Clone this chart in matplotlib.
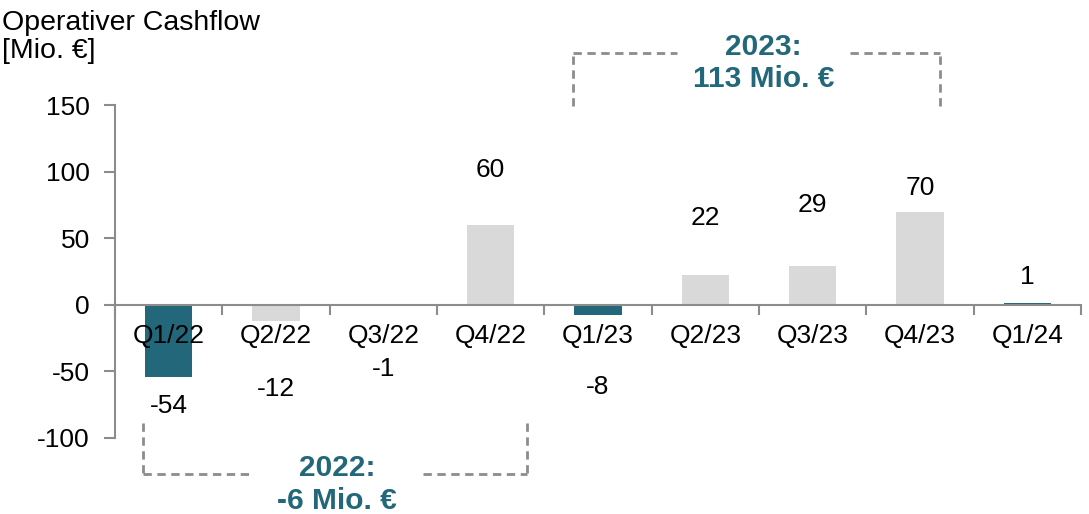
import numpy as np
import matplotlib.pyplot as plt
from matplotlib.lines import Line2D

plt.rcParams['font.family'] = ['Liberation Sans', 'DejaVu Sans']

# data
quarters = ['Q1/22', 'Q2/22', 'Q3/22', 'Q4/22', 'Q1/23', 'Q2/23', 'Q3/23', 'Q4/23', 'Q1/24']
cashflow = [-54, -12, -1, 60, -8, 22, 29, 70, 1]
highlight = [True, False, False, False, True, False, False, False, True]
yticks = [-100, -50, 0, 50, 100, 150]
sum_2022 = '2022:\n-6 Mio. €'
sum_2023 = '2023:\n113 Mio. €'

# where the value labels sit (data units), as in the source slide
label_y = [-76, -63, -48, 101, -62, 65, 75, 88, 21]

teal = '#22687A'
grey = '#D9D9D9'
axis_grey = '#8C8C8C'
fs = 19

fig = plt.figure(figsize=(10.89, 5.14), dpi=100)
ax = fig.add_axes([0.1056, 0.1479, 0.8871, 0.6478])

x = np.arange(len(quarters))
colors = [teal if h else grey for h in highlight]
ax.bar(x, cashflow, width=0.44, color=colors, zorder=1)

for xi, ly, v in zip(x, label_y, cashflow):
    ax.text(xi, ly, str(v), ha='center', va='center', fontsize=fs, color='black')

ax.set_xlim(-0.5, len(quarters) - 0.5)
ax.set_ylim(-100, 150)
ax.set_yticks(yticks)
ax.set_yticklabels([str(t) for t in yticks])

ax.set_xticks(x)
ax.set_xticklabels(quarters)
ax.set_xticks(np.arange(-0.5, len(quarters)), minor=True)
ax.tick_params(axis='x', which='major', length=0, pad=14, labelsize=fs)
ax.tick_params(axis='x', which='minor', length=7, width=1.5, color=axis_grey, direction='out')
ax.tick_params(axis='y', length=8, width=1.5, color=axis_grey, pad=10, labelsize=fs)

for s in ['top', 'right']:
    ax.spines[s].set_visible(False)
ax.spines['bottom'].set_position(('data', 0))
for s in ['bottom', 'left']:
    ax.spines[s].set_color(axis_grey)
    ax.spines[s].set_linewidth(1.5)
    ax.spines[s].set_zorder(3)
ax.xaxis.set_zorder(3)

# summary brackets
dash = dict(color='#8C8C8C', lw=2, ls=(0, (3, 2)), clip_on=False)

def bracket(x0, x1, y_open, y_edge, gap0, gap1):
    ax.add_line(Line2D([x0, x0], [y_open, y_edge], **dash))
    ax.add_line(Line2D([x1, x1], [y_open, y_edge], **dash))
    ax.add_line(Line2D([x0, gap0], [y_edge, y_edge], **dash))
    ax.add_line(Line2D([gap1, x1], [y_edge, y_edge], **dash))

bracket(3.77, 7.19, 149, 189, 4.74, 6.35)
ax.text(5.54, 181.5, sum_2023, ha='center', va='center', fontsize=21.5,
        fontweight='bold', color=teal, linespacing=1.2, clip_on=False)

bracket(-0.24, 3.34, -89, -127, 0.78, 2.37)
ax.text(1.57, -134.8, sum_2022, ha='center', va='center', fontsize=21.5,
        fontweight='bold', color=teal, linespacing=1.2, clip_on=False)

fig.text(0.002, 0.981, 'Operativer Cashflow\n[Mio. €]', ha='left', va='top',
         fontsize=20.5, linespacing=1.12)

fig.savefig('out.png', dpi=100)
